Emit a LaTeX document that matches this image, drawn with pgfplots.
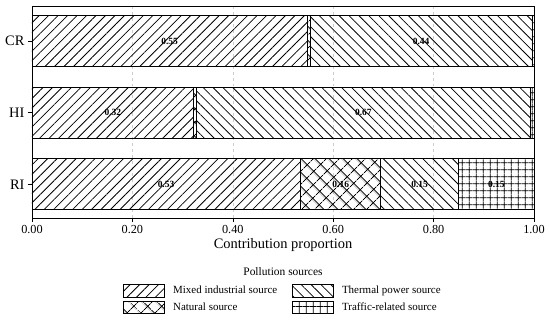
\documentclass[border=0pt]{standalone}
\usepackage{pgfplots}
\pgfplotsset{compat=1.18}
\usepackage{fontspec}
\setmainfont{Liberation Serif}
\usetikzlibrary{patterns.meta}
\tikzset{
  pmixed/.style={pattern={Lines[angle=45,distance=6.7bp,line width=0.8bp]},pattern color=black},
  pthermal/.style={pattern={Lines[angle=-45,distance=7bp,line width=0.8bp]},pattern color=black},
  pnatural/.style={pattern={Hatch[angle=45,distance=9.5bp,line width=0.9bp]},pattern color=black},
  ptraffic/.style={pattern={Hatch[angle=0,distance=6.8bp,line width=0.8bp]},pattern color=black},
}
\begin{document}
\begin{tikzpicture}
\path[use as bounding box] (-32bp,-102bp) rectangle (518bp,218bp);
\begin{axis}[
  at={(0,0)}, anchor=south west,
  scale only axis, width=502bp, height=212bp,
  xbar stacked, bar width=51bp,
  xmin=0, xmax=1, ymin=-0.47, ymax=2.49,
  xtick={0,0.2,0.4,0.6,0.8,1},
  ytick={0,1,2}, yticklabels={RI,HI,CR},
  tick pos=left, tick align=outside,
  major tick length=4bp,
  every tick/.style={black, line width=0.6bp},
  axis line style={line width=0.8bp},
  xmajorgrids, grid style={dashed, gray!40, line width=0.5bp},
  /pgf/number format/.cd, fixed, fixed zerofill, precision=2, assume math mode=true,
  /pgfplots/.cd,
  xticklabel style={font=\fontsize{12.3}{13}\selectfont},
  yticklabel style={font=\fontsize{14.5}{15}\selectfont},
  xlabel={Contribution proportion},
  xlabel style={font=\fontsize{14.5}{15}\selectfont, yshift=2bp},
  legend columns=2, transpose legend,
  legend cell align=left,
  legend image code/.code={\draw[#1, line width=0.8bp] (0bp,-6.3bp) rectangle (41bp,6.3bp);},
  legend style={name=leg, at={(0.5,-0.31)}, anchor=north, draw=none,
    font=\fontsize{11}{12}\selectfont, inner sep=0pt, row sep=3.5bp,
    /tikz/every odd column/.append style={column sep=6bp},
    /tikz/every even column/.append style={column sep=13bp}},
]
\addplot[draw=black, line width=0.8bp, pmixed] coordinates {(0.535,0) (0.322,1) (0.548,2)};
\addlegendentry{Mixed industrial source}
\addplot[draw=black, line width=0.8bp, pnatural] coordinates {(0.160,0) (0.005,1) (0.006,2)};
\addlegendentry{Natural source}
\addplot[draw=black, line width=0.8bp, pthermal] coordinates {(0.155,0) (0.665,1) (0.442,2)};
\addlegendentry{Thermal power source}
\addplot[draw=black, line width=0.8bp, ptraffic] coordinates {(0.150,0) (0.008,1) (0.004,2)};
\addlegendentry{Traffic-related source}
\end{axis}
\begin{axis}[
  at={(0,0)}, anchor=south west,
  scale only axis, width=502bp, height=212bp,
  xmin=0, xmax=1, ymin=-0.47, ymax=2.49,
  hide axis,
]
\addplot[only marks, mark=*, mark size=0pt, mark options={draw=none, fill=none},
  nodes near coords, point meta=explicit symbolic,
  nodes near coords style={anchor=center, font=\fontsize{9.5}{10}\selectfont\bfseries, inner sep=0pt}]
  coordinates {
  (0.274,2) [0.55] (0.775,2) [0.44]
  (0.161,1) [0.32] (0.660,1) [0.67]
  (0.267,0) [0.53] (0.615,0) [0.16] (0.772,0) [0.15] (0.925,0) [0.15]
  };
\end{axis}
\node[font=\fontsize{11.5}{12}\selectfont] at (251bp,-54bp) {Pollution sources};
\end{tikzpicture}
\end{document}
